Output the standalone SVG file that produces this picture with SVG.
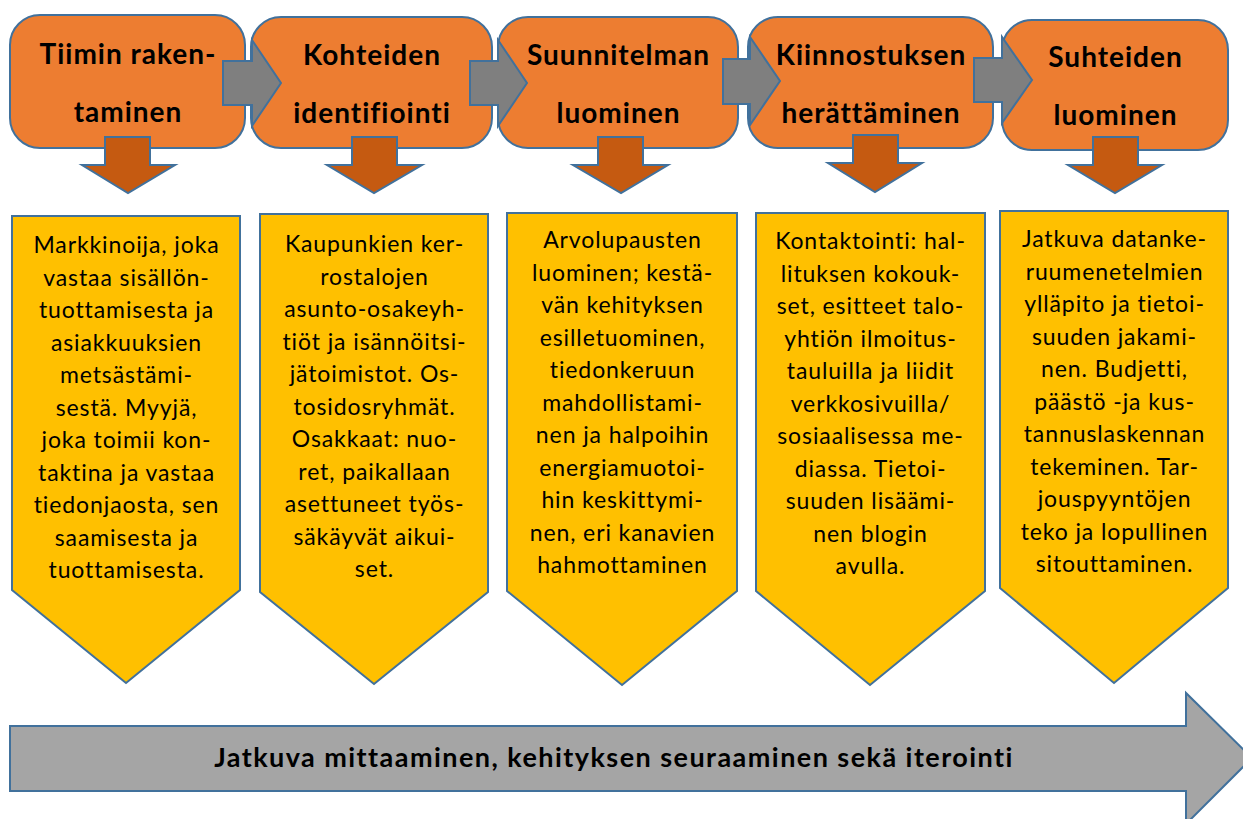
<svg xmlns="http://www.w3.org/2000/svg" width="1243" height="819" viewBox="0 0 1243 819">
<style>
.box{fill:#ED7D31;stroke:#41719C;stroke-width:2}
.garr{fill:#7F7F7F;stroke:#41719C;stroke-width:2;stroke-linejoin:miter}
.darr{fill:#C55A11;stroke:#41719C;stroke-width:2}
.pent{fill:#FFC000;stroke:#41719C;stroke-width:2}
.big{fill:#A5A5A5;stroke:#41719C;stroke-width:2}
.title{font-family:Lato,"Open Sans",sans-serif;font-weight:bold;font-size:28px;letter-spacing:1px;fill:#000;text-anchor:middle}
.body{font-family:Lato,"Open Sans",sans-serif;font-size:23px;letter-spacing:0.9px;fill:#000;text-anchor:middle}
.bottom{font-family:Lato,"Open Sans",sans-serif;font-weight:bold;font-size:27px;letter-spacing:1.45px;fill:#000;text-anchor:middle}
</style>
<rect width="1243" height="819" fill="#fff"/>

<g id="step1">
<rect class="box" x="10" y="15" width="235" height="133" rx="30"/>
<text class="title" x="128" y="64">Tiimin raken-</text>
<text class="title" x="128" y="122">taminen</text>
</g>
<g id="step2">
<rect class="box" x="251" y="17" width="241" height="131" rx="30"/>
<text class="title" x="372" y="65">Kohteiden</text>
<text class="title" x="372" y="123">identifiointi</text>
</g>
<g id="step3">
<rect class="box" x="498" y="17" width="240" height="131" rx="30"/>
<text class="title" x="618.5" y="65">Suunnitelman</text>
<text class="title" x="618.5" y="123">luominen</text>
</g>
<g id="step4">
<rect class="box" x="748" y="17" width="245" height="131" rx="30"/>
<text class="title" x="871" y="65">Kiinnostuksen</text>
<text class="title" x="871" y="123">herättäminen</text>
</g>
<g id="step5">
<rect class="box" x="1002" y="20" width="226" height="130" rx="30"/>
<text class="title" x="1115.5" y="67">Suhteiden</text>
<text class="title" x="1115.5" y="125">luominen</text>
</g>

<g id="connectors">
<polygon class="garr" points="223,61 252,61 252,40 281,83 252,126 252,105 223,105"/>
<polygon class="garr" points="470,61 498,61 498,40 527,83 498,126 498,105 470,105"/>
<polygon class="garr" points="723,59 750,59 750,37 780,81 750,125 750,104 723,104"/>
<polygon class="garr" points="974,58 1002,58 1002,37 1032,80 1002,123 1002,102 974,102"/>
<polygon class="darr" points="105,137 150,137 150,165 175,165 128,193 82,165 105,165"/>
<polygon class="darr" points="352,137 397,137 397,165 422,165 374,193 327,165 352,165"/>
<polygon class="darr" points="598,137 643,137 643,165 668,165 621,193 573,165 598,165"/>
<polygon class="darr" points="853,135 898,135 898,163 922,163 875,192 828,163 853,163"/>
<polygon class="darr" points="1093,137 1138,137 1138,165 1162,165 1115,193 1068,165 1093,165"/>
</g>

<g id="detail1">
<polygon class="pent" points="12,216 240,216 240,590 126,683 12,590"/>
<text class="body" x="126.5" y="253">Markkinoija, joka</text>
<text class="body" x="126.5" y="285.5">vastaa sisällön-</text>
<text class="body" x="126.5" y="318">tuottamisesta ja</text>
<text class="body" x="126.5" y="350.5">asiakkuuksien</text>
<text class="body" x="126.5" y="383">metsästämi-</text>
<text class="body" x="126.5" y="415.5">sestä. Myyjä,</text>
<text class="body" x="126.5" y="448">joka toimii kon-</text>
<text class="body" x="126.5" y="480.5">taktina ja vastaa</text>
<text class="body" x="126.5" y="513">tiedonjaosta, sen</text>
<text class="body" x="126.5" y="545.5">saamisesta ja</text>
<text class="body" x="126.5" y="578">tuottamisesta.</text>
</g>
<g id="detail2">
<polygon class="pent" points="260,214 488,214 488,592 374,684 260,592"/>
<text class="body" x="374.5" y="252">Kaupunkien ker-</text>
<text class="body" x="374.5" y="284.5">rostalojen</text>
<text class="body" x="374.5" y="317">asunto-osakeyh-</text>
<text class="body" x="374.5" y="349.5">tiöt ja isännöitsi-</text>
<text class="body" x="374.5" y="382">jätoimistot. Os-</text>
<text class="body" x="374.5" y="414.5">tosidosryhmät.</text>
<text class="body" x="374.5" y="447">Osakkaat: nuo-</text>
<text class="body" x="374.5" y="479.5">ret, paikallaan</text>
<text class="body" x="374.5" y="512">asettuneet työs-</text>
<text class="body" x="374.5" y="544.5">säkäyvät aikui-</text>
<text class="body" x="374.5" y="577">set.</text>
</g>
<g id="detail3">
<polygon class="pent" points="507,213 737,213 737,591 622,685 507,591"/>
<text class="body" x="622.5" y="248">Arvolupausten</text>
<text class="body" x="622.5" y="280.5">luominen; kestä-</text>
<text class="body" x="622.5" y="313">vän kehityksen</text>
<text class="body" x="622.5" y="345.5">esilletuominen,</text>
<text class="body" x="622.5" y="378">tiedonkeruun</text>
<text class="body" x="622.5" y="410.5">mahdollistami-</text>
<text class="body" x="622.5" y="443">nen ja halpoihin</text>
<text class="body" x="622.5" y="475.5">energiamuotoi-</text>
<text class="body" x="622.5" y="508">hin keskittymi-</text>
<text class="body" x="622.5" y="540.5">nen, eri kanavien</text>
<text class="body" x="622.5" y="573">hahmottaminen</text>
</g>
<g id="detail4">
<polygon class="pent" points="756,213 985,213 985,591 870,685 756,591"/>
<text class="body" x="870.5" y="249">Kontaktointi: hal-</text>
<text class="body" x="870.5" y="281.5">lituksen kokouk-</text>
<text class="body" x="870.5" y="314">set, esitteet talo-</text>
<text class="body" x="870.5" y="346.5">yhtiön ilmoitus-</text>
<text class="body" x="870.5" y="379">tauluilla ja liidit</text>
<text class="body" x="870.5" y="411.5">verkkosivuilla/</text>
<text class="body" x="870.5" y="444">sosiaalisessa me-</text>
<text class="body" x="870.5" y="476.5">diassa. Tietoi-</text>
<text class="body" x="870.5" y="509">suuden lisäämi-</text>
<text class="body" x="870.5" y="541.5">nen blogin</text>
<text class="body" x="870.5" y="574">avulla.</text>
</g>
<g id="detail5">
<polygon class="pent" points="1000,211 1228,211 1228,588 1114,683 1000,588"/>
<text class="body" x="1114.5" y="247">Jatkuva datanke-</text>
<text class="body" x="1114.5" y="279.5">ruumenetelmien</text>
<text class="body" x="1114.5" y="312">ylläpito ja tietoi-</text>
<text class="body" x="1114.5" y="344.5">suuden jakami-</text>
<text class="body" x="1114.5" y="377">nen. Budjetti,</text>
<text class="body" x="1114.5" y="409.5">päästö -ja kus-</text>
<text class="body" x="1114.5" y="442">tannuslaskennan</text>
<text class="body" x="1114.5" y="474.5">tekeminen. Tar-</text>
<text class="body" x="1114.5" y="507">jouspyyntöjen</text>
<text class="body" x="1114.5" y="539.5">teko ja lopullinen</text>
<text class="body" x="1114.5" y="572">sitouttaminen.</text>
</g>

<g id="iteration">
<polygon class="big" points="10,726 1186,726 1186,693 1252,758 1186,824 1186,791 10,791"/>
<text class="bottom" x="614" y="767">Jatkuva mittaaminen, kehityksen seuraaminen sekä iterointi</text>
</g>
</svg>
